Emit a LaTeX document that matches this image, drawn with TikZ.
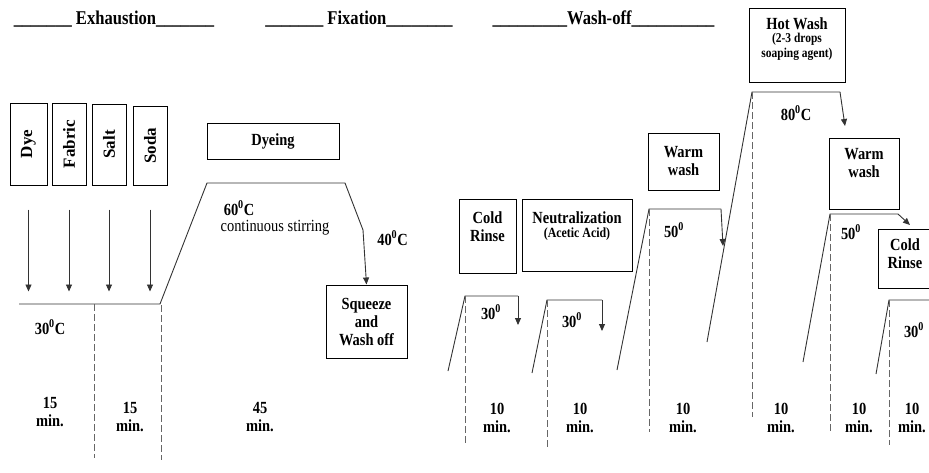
\documentclass[tikz,border=0pt]{standalone}
\usepackage{fontspec}
\setmainfont{Liberation Serif}[FakeStretch=0.85]
\newfontfamily\uprightserif{Liberation Serif}
\usepackage{graphicx}
\usetikzlibrary{arrows.meta,positioning}
\newcommand{\degz}{\textsuperscript{0}}
\newcommand{\bodyfont}{\fontsize{17}{18}\selectfont}
\newcommand{\vlabel}[1]{\rotatebox{90}{\uprightserif\bfseries #1}}
\newcommand{\smallfont}[1]{\fontsize{#1}{#1}\selectfont}

\begin{document}
\begin{tikzpicture}[x=1pt,y=-1pt,box/.style 2 args={draw,line width=1pt,inner sep=0pt,minimum width=#1pt,minimum height=#2pt,align=center,font=\bodyfont\bfseries},lbl/.style={inner sep=0pt,align=center,font=\bodyfont\bfseries},head/.style={inner sep=0pt,anchor=base,font=\fontsize{19.5}{20}\selectfont\bfseries},prof/.style={line width=0.9pt,black!80},arr/.style={prof,-{Triangle[length=7pt,width=6pt]}},grid/.style={line width=0.9pt,black!60,dash pattern=on 7pt off 3pt}]
\useasboundingbox (0,0) rectangle (929,472);
% phase headings
\node[head] (hExh) at (114,24) {\_\_\_\_\_\_\_ Exhaustion\_\_\_\_\_\_\_};
\node[head] (hFix) at (359,24) {\_\_\_\_\_\_\_ Fixation\_\_\_\_\_\_\_\_};
\node[head] (hWash) at (603.5,24) {\_\_\_\_\_\_\_\_\_Wash-off\_\_\_\_\_\_\_\_\_\_};
% exhaustion: additions
\node[box={37}{82}] (dye) at (28.5,144) {\vlabel{Dye}};
\node[box={34}{82}] (fabric) at (69,144) {\vlabel{Fabric}};
\node[box={34}{81}] (salt) at (109,144.5) {\vlabel{Salt}};
\node[box={34}{79}] (soda) at (150,145.5) {\vlabel{Soda}};
\draw[arr] ([yshift=-24pt]dye.south)--([yshift=-106pt]dye.south);\draw[arr] ([yshift=-24pt]fabric.south)--([yshift=-106pt]fabric.south);
\draw[arr] ([yshift=-24pt]salt.south)--([yshift=-106pt]salt.south);\draw[arr] ([yshift=-24pt]soda.south)--([yshift=-106pt]soda.south);
% exhaustion + fixation profile
\coordinate (e0) at (19,304);\coordinate (e1) at (160,304);\coordinate (f1) at (207,183);\coordinate (f2) at (345,183);\coordinate (f3) at (363,230);
\coordinate (m1) at (94,304);\coordinate (m2) at (161,305);
\draw[prof] (e0)--(e1)--(f1)--(f2)--(f3);
\draw[grid] (m1)--++(0,154);\draw[grid] (m2)--++(0,155);
\node[box={132}{36}] (dyeing) at (273,141) {Dyeing};
\node[box={81}{73}] (squeeze) at (366.5,321.5) {Squeeze\\and\\Wash off};
\draw[arr] (f3)--(squeeze.north);
\node[lbl] (tExh) at (50,327) {30\degz C};
\node[lbl] (tFix) at (239,208) {60\degz C};
\node[font=\bodyfont] (stir) at (275,228) {continuous stirring};
\node[lbl] (tCool) at (392.5,238) {40\degz C};
\node[lbl] (dur1) at (50,412) {15\\min.};
\node[lbl] (dur2) at (130,417) {15\\min.};
\node[lbl] (dur3) at (260,417) {45\\min.};
% wash-off boxes
\node[box={57}{74},label={[lbl,anchor=north,yshift=-12.5pt]north:{Cold\\Rinse}}] (rinseA) at (487.5,236) {};
\node[box={110}{72},label={[lbl,anchor=north,yshift=-12.5pt]north:{Neutralization\\[-4pt]{\smallfont{14}(Acetic Acid)}}}] (neutral) at (577,235) {};
\node[box={71}{57}] (warmA) at (683.5,161.5) {Warm\\wash};
\node[box={96}{74},label={[lbl,anchor=north,yshift=-10.5pt]north:{Hot Wash\\[-5pt]{\smallfont{13.5}(2-3 drops}\\[-3pt]{\smallfont{13.5}soaping agent)}}}] (hotwash) at (797,45) {};
\node[box={70}{71},label={[lbl,anchor=north,yshift=-10.5pt]north:{Warm\\wash}}] (warmB) at (864,173.5) {};
\node[box={54}{59},label={[lbl,anchor=north,yshift=-9.5pt]north:{Cold\\Rinse}}] (rinseB) at (905,258.5) {};
% wash-off profile
\coordinate (b1) at (448,371);\coordinate (c1) at (465,296);\coordinate (t1) at (518,296);\coordinate (a1) at (518,325);
\coordinate (b2) at (532,373);\coordinate (c2) at (547,300);\coordinate (t2) at (602,300);\coordinate (a2) at (602,331);
\coordinate (b3) at (617,370);\coordinate (c3) at (649,209);\coordinate (t3) at (721,209);\coordinate (a3) at (723,246);
\coordinate (b4) at (707,342);\coordinate (c4) at (752,92);\coordinate (t4) at (840,92);\coordinate (a4) at (845,126);
\coordinate (b5) at (803,362);\coordinate (c5) at (830,214);\coordinate (t5) at (898,214);\coordinate (a5) at (910,225);
\coordinate (b6) at (876,374);\coordinate (c6) at (889,300);\coordinate (t6) at (935,300);
\draw[prof] (b1)--(c1)--(t1);\draw[arr] (t1)--(a1);\draw[grid] (c1)--++(0,149);
\draw[prof] (b2)--(c2)--(t2);\draw[arr] (t2)--(a2);\draw[grid] (c2)--++(0,148);
\draw[prof] (b3)--(c3)--(t3);\draw[arr] (t3)--(a3);\draw[grid] (c3)--++(0,223);
\draw[prof] (b4)--(c4)--(t4);\draw[arr] (t4)--(a4);\draw[grid] (c4)--++(0,325);
\draw[prof] (b5)--(c5)--(t5);\draw[arr] (t5)--(a5);\draw[grid] (c5)--++(0,218);
\draw[prof] (b6)--(c6)--(t6);\draw[grid] (c6)--++(0,145);
\node[lbl] (w1) at (491,312) {30\degz};
\node[lbl] (w2) at (572,320) {30\degz};
\node[lbl] (w3) at (674,230) {50\degz};
\node[lbl] (w4) at (796,113) {80\degz C};
\node[lbl] (w5) at (851,232) {50\degz};
\node[lbl] (w6) at (914,330) {30\degz};
\node[lbl] (dur4) at (497,417.5) {10\\min.};
\node[lbl] (dur5) at (580,417.5) {10\\min.};
\node[lbl] (dur6) at (683,417.5) {10\\min.};
\node[lbl] (dur7) at (781,417.5) {10\\min.};
\node[lbl] (dur8) at (859,417.5) {10\\min.};
\node[lbl] (dur9) at (912,417.5) {10\\min.};
\end{tikzpicture}
\end{document}
